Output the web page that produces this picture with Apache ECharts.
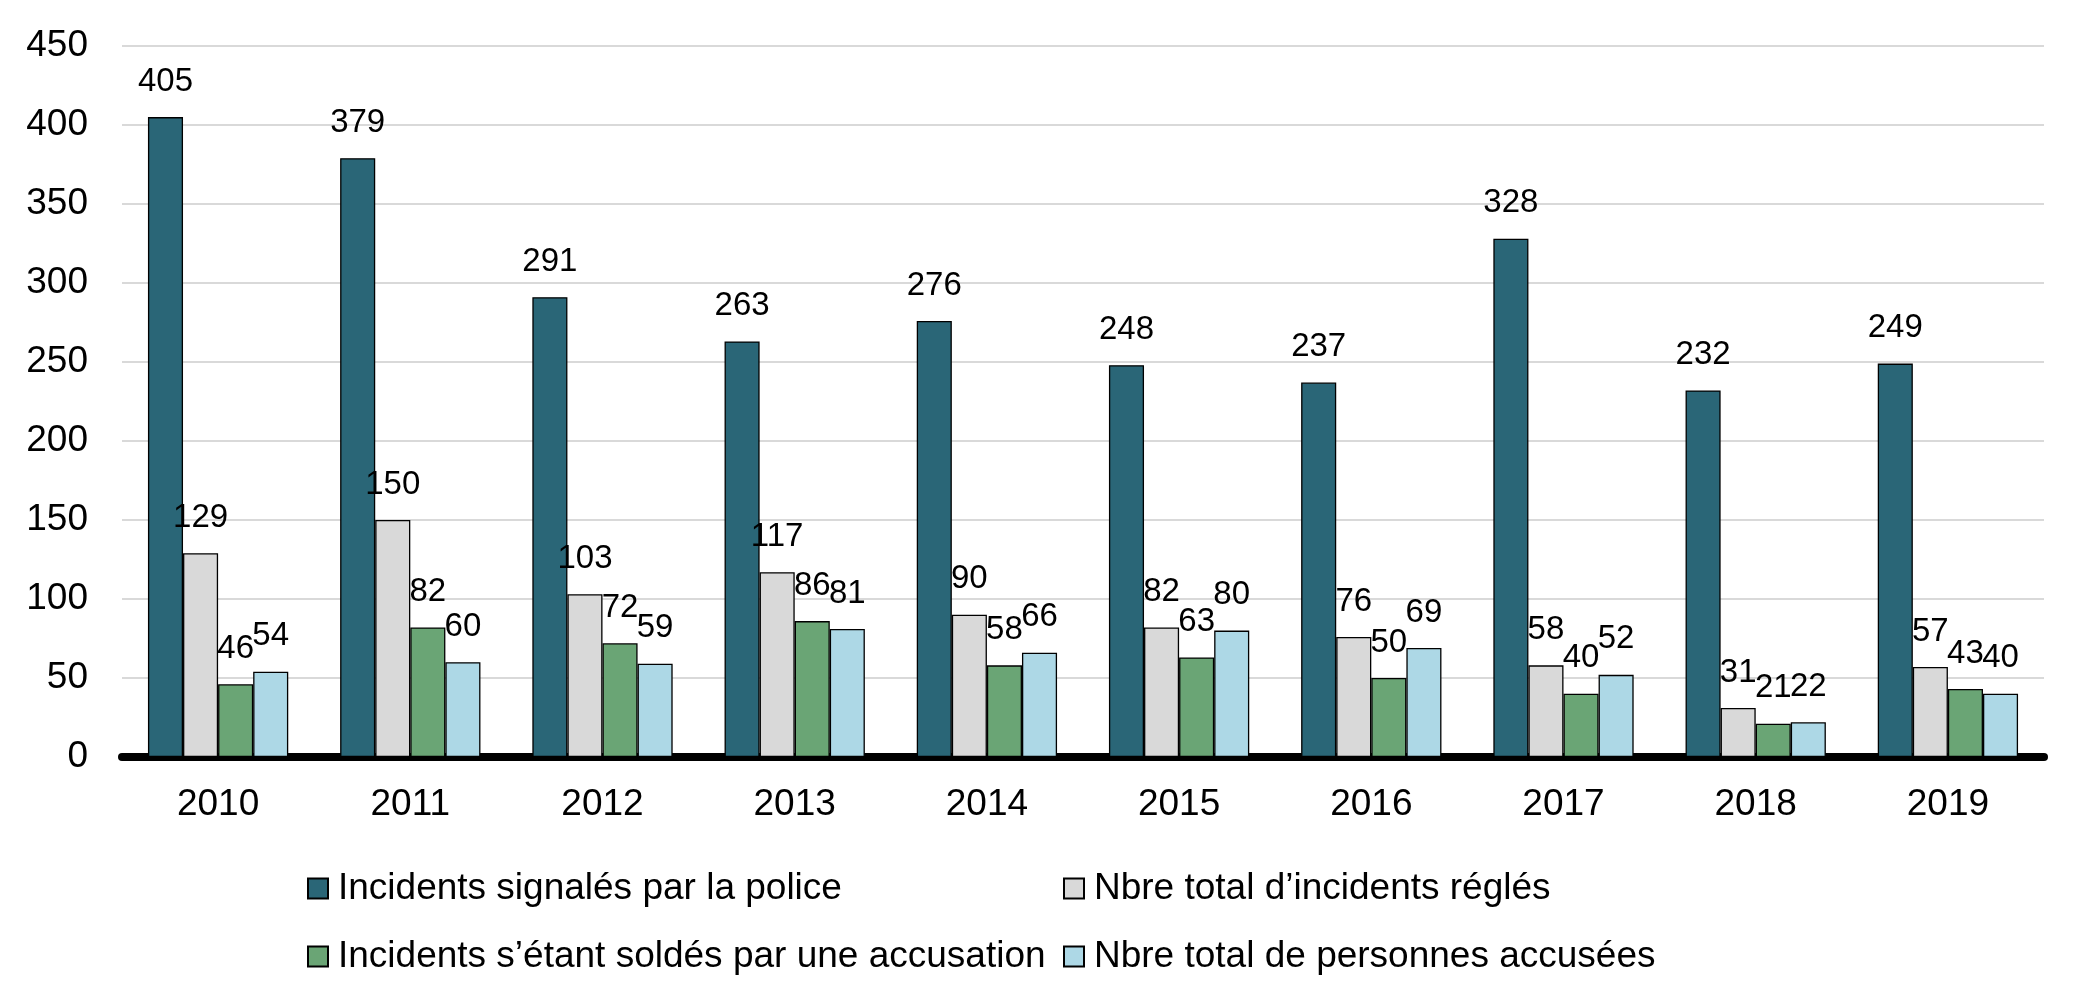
<!DOCTYPE html>
<html>
<head>
<meta charset="utf-8">
<script src="https://cdn.jsdelivr.net/npm/echarts@6/dist/echarts.min.js"></script>
<style>
html,body{margin:0;padding:0;background:#fff;}
#chart{width:2091px;height:1004px;}
</style>
</head>
<body>
<div id="chart"></div>
<script>
const categories = ['2010','2011','2012','2013','2014','2015','2016','2017','2018','2019'];
const seriesNames = [
  'Incidents signalés par la police',
  'Nbre total d\u2019incidents réglés',
  'Incidents s\u2019étant soldés par une accusation',
  'Nbre total de personnes accusées'
];
const reported = [405, 379, 291, 263, 276, 248, 237, 328, 232, 249];
const cleared = [129, 150, 103, 117, 90, 82, 76, 58, 31, 57];
const charged = [46, 82, 72, 86, 58, 63, 50, 40, 21, 43];
const personsCharged = [54, 60, 59, 81, 66, 80, 69, 52, 22, 40];
const yTicks = [0, 50, 100, 150, 200, 250, 300, 350, 400, 450];

const colors = ['#2A6677', '#D9D9D9', '#6AA575', '#ADD8E6'];
const FONT = '"Liberation Sans", Arial, sans-serif';
const dataSets = [reported, cleared, charged, personsCharged];

const chart = echarts.init(document.getElementById('chart'), null, {renderer: 'canvas'});

const series = dataSets.map((d, i) => ({
  name: seriesNames[i],
  type: 'bar',
  data: d,
  barGap: '0%',
  barCategoryGap: '27%',
  itemStyle: {color: colors[i], borderColor: '#000', borderWidth: 1.3},
  label: {
    show: true,
    position: 'top',
    distance: 19,
    color: '#000',
    fontFamily: FONT,
    fontSize: 33
  }
}));

const legendCommon = {
  orient: 'vertical',
  top: 865,
  icon: 'rect',
  itemWidth: 20,
  itemHeight: 20,
  itemGap: 31,
  textStyle: {fontFamily: FONT, fontSize: 37, color: '#000', padding: [0,0,0,5]}
};

chart.setOption({
  backgroundColor: '#fff',
  animation: false,
  textStyle: {fontFamily: FONT},
  grid: {left: 122, right: 47, top: 46, bottom: 247, containLabel: false},
  legend: [
    Object.assign({}, legendCommon, {data: [seriesNames[0], seriesNames[2]], left: 302}),
    Object.assign({}, legendCommon, {data: [seriesNames[1], seriesNames[3]], left: 1058})
  ],
  xAxis: {
    type: 'category',
    data: categories,
    offset: 3,
    axisLine: {show: true, lineStyle: {color: '#000', width: 8}},
    axisTick: {show: false},
    axisLabel: {color: '#000', fontFamily: FONT, fontSize: 37, margin: 26}
  },
  yAxis: {
    type: 'value',
    min: yTicks[0],
    max: yTicks[yTicks.length - 1],
    interval: yTicks[1] - yTicks[0],
    axisLine: {show: false},
    axisTick: {show: false},
    splitLine: {show: true, lineStyle: {color: '#D9D9D9', width: 2}},
    axisLabel: {color: '#000', fontFamily: FONT, fontSize: 37, margin: 34}
  },
  series: series
});
</script>
</body>
</html>
